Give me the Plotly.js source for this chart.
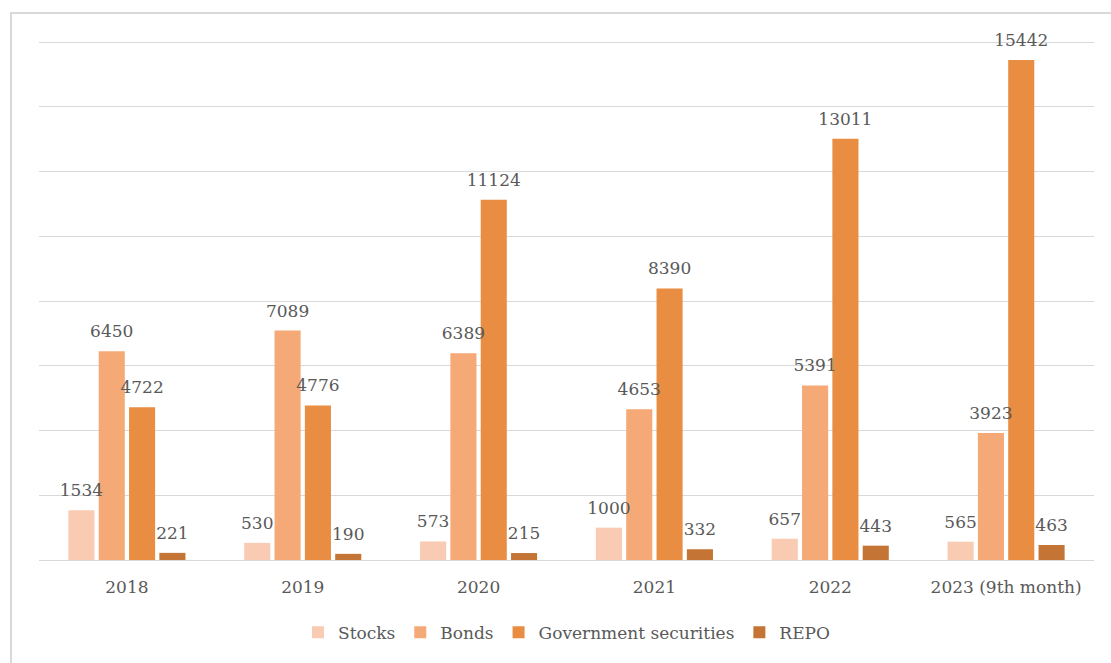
<!DOCTYPE html>
<html>
<head>
<meta charset="utf-8">
<script src="https://cdn.plot.ly/plotly-3.0.1.min.js"></script>
<style>
html,body{margin:0;padding:0;background:#fff;}
#frame{position:absolute;left:10px;top:12px;width:1110px;height:660px;border:2px solid #d9d9d9;box-sizing:border-box;}
#chart{position:absolute;left:0;top:0;width:1111px;height:663px;}
</style>
</head>
<body>
<div id="frame"></div>
<div id="chart"></div>
<script>
const categories = ["2018", "2019", "2020", "2021", "2022", "2023 (9th month)"];
const stocks = [1534, 530, 573, 1000, 657, 565];
const bonds = [6450, 7089, 6389, 4653, 5391, 3923];
const govSecurities = [4722, 4776, 11124, 8390, 13011, 15442];
const repo = [221, 190, 215, 332, 443, 463];
const seriesNames = ["Stocks", "Bonds", "Government securities", "REPO"];
const colors = ["#F8CBB2", "#F5A977", "#E88D42", "#C47535"];

const font = {family: "DejaVu Serif, serif", size: 17, color: "#595959"};
const values = [stocks, bonds, govSecurities, repo];

const bars = values.map((v, i) => ({
  type: "bar",
  name: seriesNames[i],
  x: categories,
  y: v,
  offsetgroup: String(i),
  marker: {color: colors[i]},
  hoverinfo: "x+y+name"
}));

const labels = values.map((v, i) => ({
  type: "scatter",
  mode: "markers+text",
  x: categories,
  y: v,
  offsetgroup: String(i),
  text: v.map(String),
  textposition: "top center",
  textfont: font,
  marker: {size: 14, color: "rgba(0,0,0,0)"},
  cliponaxis: false,
  showlegend: false,
  hoverinfo: "skip"
}));

const layout = {
  width: 1111,
  height: 663,
  paper_bgcolor: "rgba(0,0,0,0)",
  plot_bgcolor: "rgba(0,0,0,0)",
  margin: {l: 39, r: 17, t: 40, b: 101},
  barmode: "group",
  scattermode: "group",
  bargap: 0.31,
  scattergap: 0.31,
  bargroupgap: 0.14,
  font: font,
  showlegend: true,
  legend: {
    orientation: "h",
    x: 0.5, xanchor: "center",
    y: -0.105, yanchor: "top",
    font: font,
    itemwidth: 30,
    traceorder: "normal"
  },
  xaxis: {
    type: "category",
    showgrid: false,
    showline: true,
    linecolor: "#d9d9d9",
    linewidth: 1,
    ticks: "",
    ticklabelstandoff: 12,
    tickfont: font,
    zeroline: false
  },
  yaxis: {
    range: [0, 16062],
    dtick: 2000,
    showgrid: true,
    gridcolor: "#d9d9d9",
    gridwidth: 1,
    showticklabels: false,
    zeroline: false,
    ticks: ""
  }
};

Plotly.newPlot("chart", bars.concat(labels), layout, {displayModeBar: false, staticPlot: true});
</script>
</body>
</html>
